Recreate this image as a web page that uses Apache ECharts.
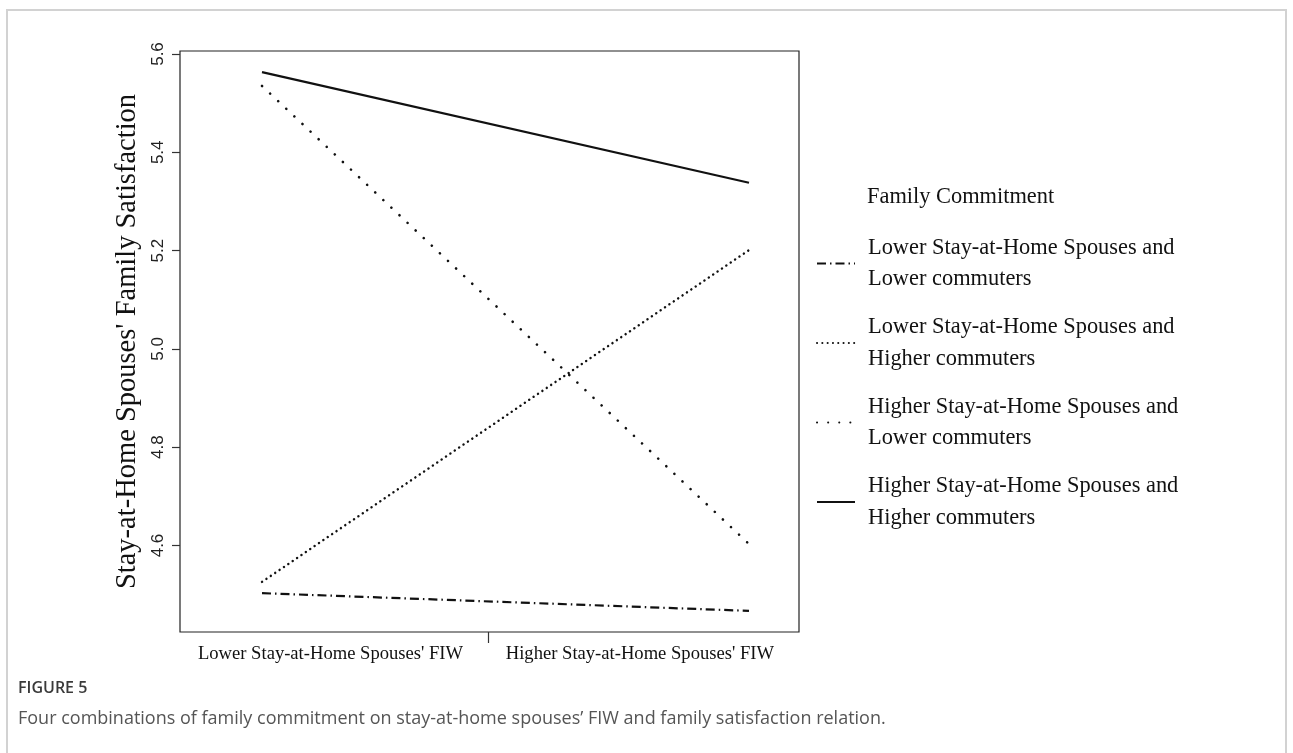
<!DOCTYPE html>
<html>
<head>
<meta charset="utf-8">
<script src="https://cdn.jsdelivr.net/npm/echarts@6/dist/echarts.min.js"></script>
<style>
html,body{margin:0;padding:0;background:#fff;}
#chart{width:1293px;height:753px;}
</style>
</head>
<body>
<div id="chart"></div>
<script>
// ---- data ----
const xCategories = ["Lower Stay-at-Home Spouses' FIW", "Higher Stay-at-Home Spouses' FIW"];
const xPositions = [1, 2];
const seriesNames = [
  "Lower Stay-at-Home Spouses and\nLower commuters",
  "Lower Stay-at-Home Spouses and\nHigher commuters",
  "Higher Stay-at-Home Spouses and\nLower commuters",
  "Higher Stay-at-Home Spouses and\nHigher commuters"
];
const lowLow = [4.503, 4.467];
const lowHigh = [4.526, 5.201];
const highLow = [5.535, 4.603];
const highHigh = [5.563, 5.338];
const yTicks = [4.6, 4.8, 5.0, 5.2, 5.4, 5.6];

const serif = "'Liberation Serif','Times New Roman',serif";
const sans = "'Liberation Sans',Arial,sans-serif";

function pts(vals) { return vals.map((v, i) => [xPositions[i], v]); }

const styles = [
  { type: [9, 4, 1.5, 4], width: 2.2, cap: 'butt' },
  { type: [0.1, 5.2], width: 2.4, cap: 'round' },
  { type: [0.1, 11], width: 2.6, cap: 'round' },
  { type: 'solid', width: 2.2, cap: 'butt' }
];
const values = [lowLow, lowHigh, highLow, highHigh];

const chart = echarts.init(document.getElementById('chart'), null, { renderer: 'canvas' });
chart.setOption({
  animation: false,
  backgroundColor: '#fff',
  graphic: [
    { type: 'rect', shape: { x: 7, y: 10, width: 1279, height: 800 }, style: { fill: 'none', stroke: '#d2d2d2', lineWidth: 2 }, silent: true },
    { type: 'text', left: 18, top: 680, style: { text: 'FIGURE 5', font: "600 16px 'Open Sans', sans-serif", fill: '#3a3a3a' } },
    { type: 'text', left: 18, top: 710, style: { text: "Four combinations of family commitment on stay-at-home spouses\u2019 FIW and family satisfaction relation.", font: "18px 'Open Sans', sans-serif", fill: '#555' } }
  ],
  title: {
    text: 'Family Commitment',
    left: 867, top: 186, padding: 0,
    textStyle: { fontFamily: serif, fontSize: 22.4, fontWeight: 'normal', color: '#111' }
  },
  legend: {
    orient: 'vertical',
    left: 816, top: 232,
    padding: 0,
    itemWidth: 38, itemHeight: 14,
    itemGap: 16.5,
    itemStyle: { color: 'rgba(0,0,0,0)', borderColor: 'rgba(0,0,0,0)', borderWidth: 0, opacity: 0 },
    textStyle: { fontFamily: serif, fontSize: 22.4, color: '#111', lineHeight: 31.5, padding: [0, 0, 0, 8] },
    data: seriesNames
  },
  grid: {
    left: 180, right: 494, top: 51, bottom: 121,
    show: true, borderColor: '#222', borderWidth: 1.2, containLabel: false
  },
  xAxis: {
    type: 'value',
    min: 0.8316, max: 2.1027,
    splitLine: { show: false },
    axisLine: { show: false },
    axisTick: { show: true, customValues: [1.464], length: 11, lineStyle: { color: '#333', width: 1.2 } },
    axisLabel: {
      customValues: [1.1407, 1.776],
      formatter: v => (v < 1.464 ? xCategories[0] : xCategories[1]),
      fontFamily: serif, fontSize: 18.6, color: '#111', margin: 13
    }
  },
  yAxis: {
    type: 'value',
    min: 4.424, max: 5.6061,
    name: "Stay-at-Home Spouses' Family Satisfaction",
    nameLocation: 'middle', nameRotate: 90, nameGap: 38,
    nameTextStyle: { fontFamily: serif, fontSize: 28.5, color: '#111' },
    splitLine: { show: false },
    axisLine: { show: false },
    axisTick: { show: true, customValues: yTicks, length: 8, lineStyle: { color: '#333', width: 1.2 } },
    axisLabel: {
      customValues: yTicks, rotate: 90, margin: 13,
      formatter: v => v.toFixed(1),
      fontFamily: sans, fontSize: 17, color: '#222'
    }
  },
  series: values.map((vals, i) => ({
    name: seriesNames[i],
    type: 'line',
    data: pts(vals),
    symbol: 'none',
    silent: true,
    itemStyle: { color: '#111' },
    lineStyle: { color: '#111', width: styles[i].width, type: styles[i].type, cap: styles[i].cap }
  }))
});
</script>
</body>
</html>
